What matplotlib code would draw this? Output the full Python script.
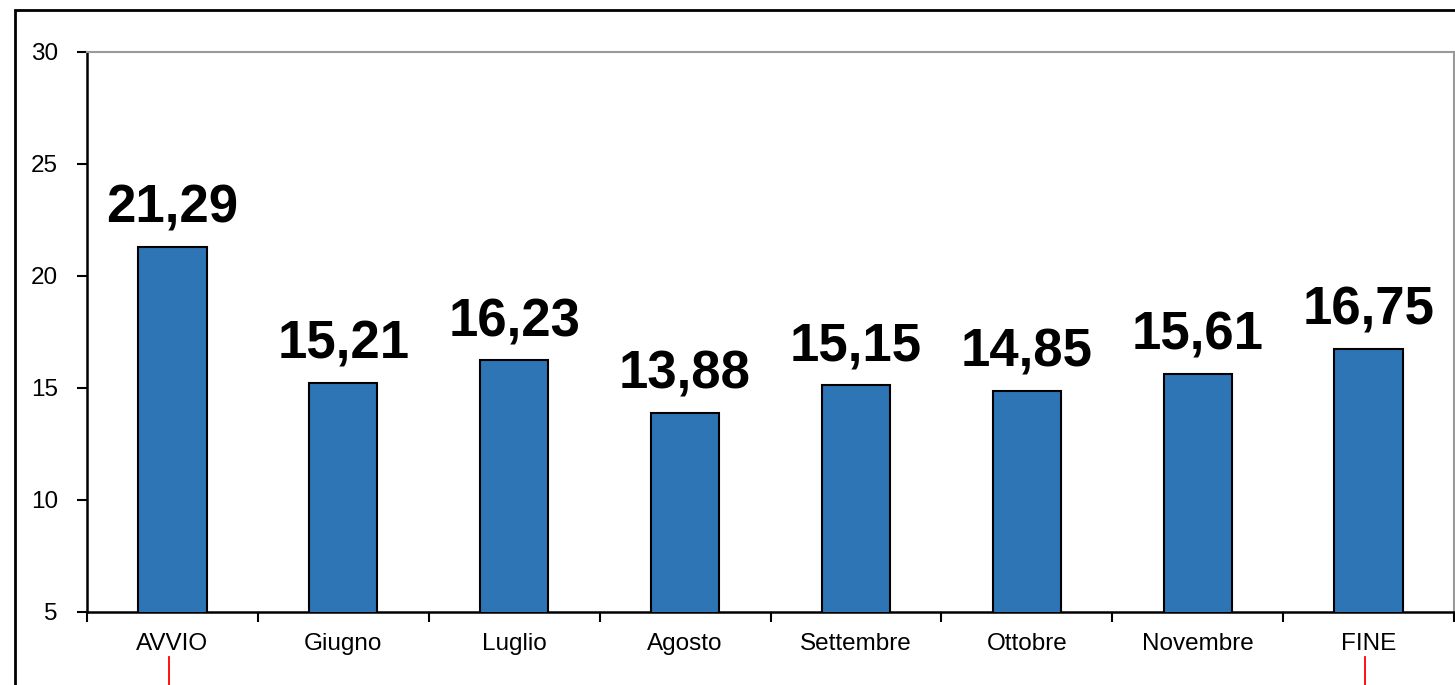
import matplotlib
matplotlib.use("Agg")
import matplotlib.pyplot as plt
import matplotlib.transforms as mtransforms
from matplotlib.patches import Rectangle
import numpy as np

# data
categories = ["AVVIO", "Giugno", "Luglio", "Agosto", "Settembre", "Ottobre", "Novembre", "FINE"]
values = [21.29, 15.21, 16.23, 13.88, 15.15, 14.85, 15.61, 16.75]
value_labels = ["21,29", "15,21", "16,23", "13,88", "15,15", "14,85", "15,61", "16,75"]
marked = ["AVVIO", "FINE"]
y_ticks = [5, 10, 15, 20, 25, 30]

plt.rcParams["font.family"] = ["Liberation Sans", "DejaVu Sans"]

W, H = 1455, 685
fig = plt.figure(figsize=(W / 100, H / 100), dpi=100)
ax = fig.add_axes([87 / W, 1 - 612 / H, (1454 - 87) / W, (612 - 52) / H])

x = np.arange(len(categories))
ax.bar(x, values, width=0.4, bottom=0, color="#2E75B6", edgecolor="black",
       linewidth=1.5, zorder=3)

for xi, v, lab in zip(x, values, value_labels):
    ax.text(xi, v + 0.6, lab, ha="center", va="bottom", fontsize=38,
            fontweight="bold", color="black")

ax.set_xlim(-0.5, len(categories) - 0.5)
ax.set_ylim(5, 30)
ax.set_yticks(y_ticks)
ax.set_yticklabels([str(t) for t in y_ticks], fontsize=17.5)

# category labels between boundary ticks
ax.set_xticks(np.arange(len(categories) + 1) - 0.5)
ax.set_xticklabels([])
ax.set_xticks(x, minor=True)
ax.set_xticklabels(categories, minor=True, fontsize=17.5)
ax.tick_params(axis="x", which="major", direction="out", length=7, width=1.5)
ax.tick_params(axis="x", which="minor", length=0, pad=15)
ax.tick_params(axis="y", direction="out", length=7, width=1.5, pad=14)

for side in ["left", "bottom"]:
    ax.spines[side].set_linewidth(1.8)
    ax.spines[side].set_color("black")
for side in ["top", "right"]:
    ax.spines[side].set_linewidth(1.5)
    ax.spines[side].set_color("#9a9a9a")

# red markers under first and last month
trans = mtransforms.blended_transform_factory(ax.transData, fig.transFigure)
for cat in marked:
    i = categories.index(cat)
    ax.plot([i - 0.02, i - 0.02], [0, 28 / H], color="red", lw=1.3,
            transform=trans, clip_on=False)

# outer frame
fig.patches.append(Rectangle((15 / W, -0.05), 1.05, 1 - 10 / H + 0.05,
                             transform=fig.transFigure, fill=False,
                             edgecolor="black", linewidth=2, clip_on=False))

fig.savefig("out.png", dpi=100)
